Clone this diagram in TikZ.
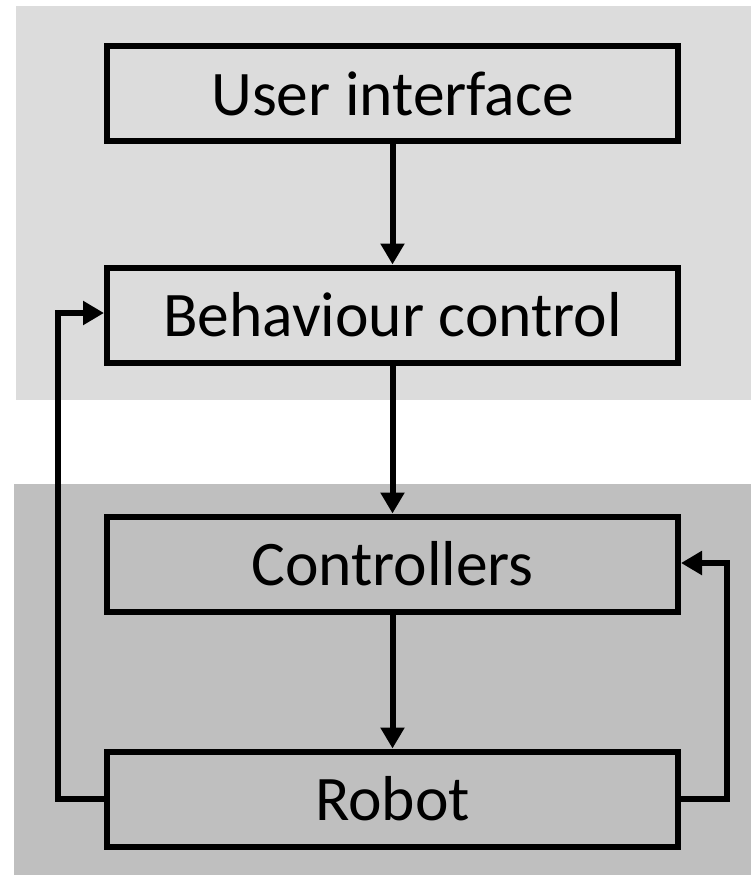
\documentclass[tikz,border=0pt]{standalone}
\usepackage{fontspec}
\setmainfont{Carlito}
\usetikzlibrary{arrows.meta}
\definecolor{bgtop}{HTML}{DCDCDC}
\definecolor{bgbot}{HTML}{BFBFBF}
\begin{document}
\begin{tikzpicture}[x=1pt,y=-1pt,
  blockbox/.style={draw=black,line width=6pt,minimum width=571pt,minimum height=95pt,inner sep=0pt,font=\fontsize{63.5}{70}\selectfont},
  conn/.style={line width=6pt,-{Triangle[width=23pt,length=21pt]}}]
\useasboundingbox (0,0) rectangle (751,875);
\fill[bgtop] (16,6) rectangle (751,400);
\fill[bgbot] (14,484) rectangle (751,875);
\node[blockbox] (ui) at (392.5,93.5) {User interface};
\node[blockbox] (bc) at (392.5,315) {Behaviour control};
\node[blockbox] (ct) at (392.5,564) {Controllers};
\node[blockbox] (rb) at (392.5,799) {Robot};
\coordinate (l1) at (58,799);
\coordinate (l2) at (58,313);
\coordinate (r1) at (727,799);
\coordinate (r2) at (727,563);
\draw[conn] (ui) -- (bc);
\draw[conn] (bc) -- (ct);
\draw[conn] (ct) -- (rb);
\draw[conn] (rb.west) -- (l1) -- (l2) -- (bc.west|-l2);
\draw[conn] (rb.east) -- (r1) -- (r2) -- (ct.east|-r2);
\end{tikzpicture}
\end{document}
